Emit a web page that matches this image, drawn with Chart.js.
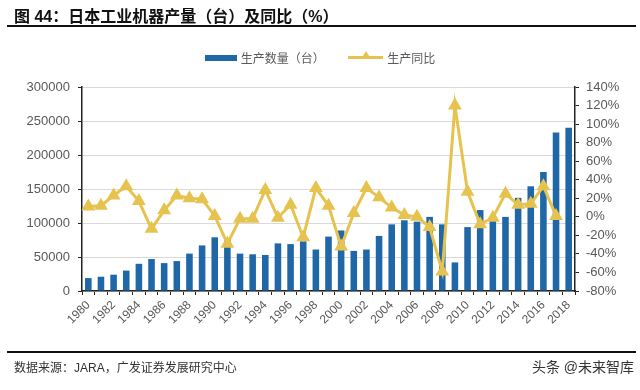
<!DOCTYPE html>
<html lang="zh-CN">
<head>
<meta charset="UTF-8">
<title>日本工业机器产量</title>
<script src="https://cdn.jsdelivr.net/npm/chart.js@4/dist/chart.umd.min.js"></script>
<style>
  body { margin: 0; background: #fff; font-family: "Liberation Sans", "Noto Sans CJK SC", sans-serif; }
  .wrap { position: relative; width: 640px; height: 390px; overflow: hidden; }
  canvas { position: absolute; left: 0; top: 0; }
  .title { position: absolute; left: 14px; top: 3px; font-size: 16px; font-weight: bold; color: #111; white-space: nowrap; }
  .rule { position: absolute; left: 7px; width: 629px; height: 2px; background: #111; }
  .legend { position: absolute; top: 49px; left: 0; width: 640px; text-align: center; font-size: 12px; color: #595959; }
  .legend span { display: inline-block; vertical-align: middle; }
  .box { width: 32px; height: 6px; background: #1f67a6; margin-right: 4px; }
  .ln { position: relative; width: 35px; height: 3px; background: #e6c34f; margin: 0 4px 0 20px; }
  .ln i { position: absolute; left: 13px; top: -5px; width: 0; height: 0; border-left: 5px solid transparent; border-right: 5px solid transparent; border-bottom: 8px solid #e6c34f; }
  .src { position: absolute; left: 14px; top: 358px; font-size: 12px; color: #333; }
  .mark { position: absolute; right: 6px; top: 356px; font-size: 14px; color: #333; }
</style>
</head>
<body>
<div class="wrap">
  <canvas id="grafico" width="640" height="390"></canvas>
  <div class="title">图 44：日本工业机器产量（台）及同比（%）</div>
  <div class="rule" style="top:25px"></div>
  <div class="legend">
    <span class="box"></span><span>生产数量（台）</span>
    <span class="ln"><i></i></span><span>生产同比</span>
  </div>
  <div class="rule" style="top:351px"></div>
  <div class="src">数据来源：JARA，广发证券发展研究中心</div>
  <div class="mark">头条 @未来智库</div>
</div>
<script>
  const anos = [];
  for (let a = 1980; a <= 2018; a++) anos.push(String(a));

  // produção (unidades)
  const producao = [19000, 21000, 24000, 30000, 40000, 47000, 41000, 44000, 55000, 67000,
    79000, 76000, 55000, 54000, 53000, 70000, 69000, 73000, 61000, 80000,
    89000, 59000, 61000, 81000, 98000, 104000, 102000, 109000, 98000, 42000,
    94000, 119000, 109000, 109000, 137000, 154000, 175000, 233000, 240000];

  // variação anual (%)
  const variacao = [11, 12, 23, 33, 17, -13, 7, 23, 20, 19,
    1, -29, -2, -2, 29, -1, 13, -22, 31, 12,
    -32, 4, 31, 21, 10, 2, 0, -11, -59, 120,
    27, -8, -1, 25, 13, 14, 33, 1, null];

  const cinza = '#595959';
  const fonte = { family: 'Liberation Sans, Arial, sans-serif', size: 13 };

  const config = {
    data: {
      labels: anos,
      datasets: [{
        type: 'line',
        label: '生产同比',
        data: variacao,
        yAxisID: 'y1',
        borderColor: '#e6c34f',
        backgroundColor: '#e6c34f',
        borderWidth: 3,
        pointStyle: 'triangle',
        pointRadius: 5,
        tension: 0,
        order: 0
      }, {
        type: 'bar',
        label: '生产数量（台）',
        data: producao,
        yAxisID: 'y',
        backgroundColor: '#1f67a6',
        barPercentage: 0.52,
        categoryPercentage: 1,
        order: 1
      }]
    },
    options: {
      responsive: false,
      devicePixelRatio: 1,
      animation: false,
      layout: { padding: { top: 87, left: 0, right: 0, bottom: 0 } },
      plugins: { legend: { display: false }, tooltip: { enabled: false } },
      scales: {
        x: {
          afterFit: (s) => { s.height = 99; },
          grid: { offset: true, drawOnChartArea: false, tickLength: 4, tickColor: '#222' },
          border: { color: '#222', width: 1.5 },
          ticks: {
            autoSkip: false, minRotation: 45, maxRotation: 45, color: cinza,
            font: { family: fonte.family, size: 12 },
            callback: function (v, i) { return i % 2 === 0 ? this.getLabelForValue(v) : ''; }
          }
        },
        y: {
          position: 'left',
          min: 0, max: 300000,
          afterFit: (s) => { s.width = 82; },
          grid: { color: '#d9d9d9', tickLength: 4, tickColor: '#222' },
          border: { color: '#222', width: 1.5 },
          ticks: { stepSize: 50000, autoSkip: false, color: cinza, font: fonte, padding: 8, callback: (v) => String(v) }
        },
        y1: {
          position: 'right',
          min: -80, max: 140,
          afterFit: (s) => { s.width = 65; },
          grid: { drawOnChartArea: false, tickLength: 4, tickColor: '#222' },
          border: { color: '#222', width: 1.5 },
          ticks: { stepSize: 20, autoSkip: false, color: cinza, font: fonte, padding: 7, callback: (v) => v + '%' }
        }
      }
    }
  };

  const grafico = new Chart(document.getElementById('grafico'), config);
</script>
</body>
</html>
